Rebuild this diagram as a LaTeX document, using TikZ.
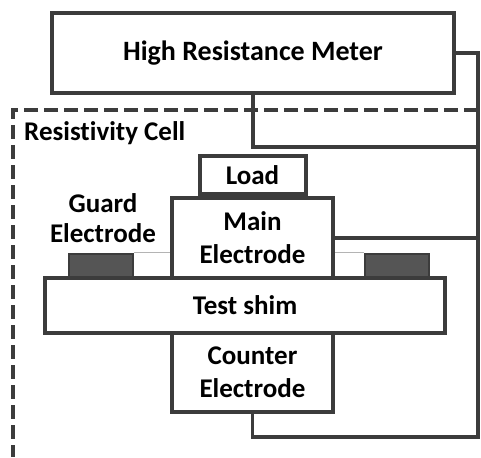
\documentclass[tikz,border=0pt]{standalone}
\usepackage{fontspec}
\setmainfont[Ligatures=NoCommon]{Carlito}
\usepackage{tikz}
\usetikzlibrary{positioning}

\definecolor{linegray}{HTML}{3C3C3C}
\definecolor{guardgray}{HTML}{555555}
\definecolor{gapgray}{HTML}{B4B4B4}

\begin{document}
\begin{tikzpicture}[
    x=1pt, y=-1pt,
    box/.style={draw=linegray, line width=4pt, fill=white, inner sep=0pt,
                align=center, font=\fontsize{27}{33}\selectfont\bfseries},
    guard/.style={draw=linegray, line width=2pt, fill=guardgray,
                  minimum width=64pt, minimum height=23pt, inner sep=0pt},
    label/.style={align=center, inner sep=0pt,
                  font=\fontsize{27}{30}\selectfont\bfseries},
    wire/.style={draw=linegray, line width=3.5pt},
    cell/.style={draw=linegray, line width=3.5pt, dash pattern=on 14pt off 6pt}
  ]
  \useasboundingbox (0,0) rectangle (481,457);

  % Resistivity cell outline
  \coordinate (cellNE) at (478,110);
  \coordinate (cellNW) at (13,110);
  \coordinate (cellSW) at (13,457);
  \draw[cell] (cellNE) -- (cellNW) -- (cellSW);
  \node[label, anchor=west] (celltxt) at (24,133) {Resistivity Cell};

  % Meter
  \node[box, minimum width=402pt, minimum height=80pt,
        font=\fontsize{28}{32}\selectfont\bfseries] (meter) at (253,53)
        {High Resistance Meter};

  % Wire corners
  \coordinate (rmid) at (478,147);
  \coordinate (rbot) at (478,437);

  % Wiring
  \draw[wire] (meter.east) -| (rbot) -| (252.5,412);
  \draw[wire] (meter.south) |- (rmid);

  % Test shim
  \node[box, minimum width=400pt, minimum height=55pt] (shim) at (245,305.5)
        {Test shim};

  % Electrodes
  \node[box, minimum width=161pt, minimum height=80pt] (main) at (252.5,238)
        {Main\\Electrode};
  \node[box, minimum width=106pt, minimum height=38pt, anchor=south] (load)
        at (main.north) {Load};
  \node[box, minimum width=161pt, minimum height=79pt] (counter)
        at (252.5,372.5) {Counter\\Electrode};
  \node[guard] (gleft) at (101,265) {};
  \node[guard] (gright) at (397,265) {};
  \node[label] (guardtxt) at (103,218) {Guard\\Electrode};

  % Guard gaps
  \draw[gapgray, line width=1pt] (gleft.north east) -- (main.west |- gleft.north);
  \draw[gapgray, line width=1pt] (gright.north west) -- (main.east |- gright.north);

  % Main electrode and counter electrode leads
  \draw[wire] (main.east) -- (main.east -| rmid);
  \draw[wire] (counter.south) -- (counter.south |- rbot);
\end{tikzpicture}
\end{document}
